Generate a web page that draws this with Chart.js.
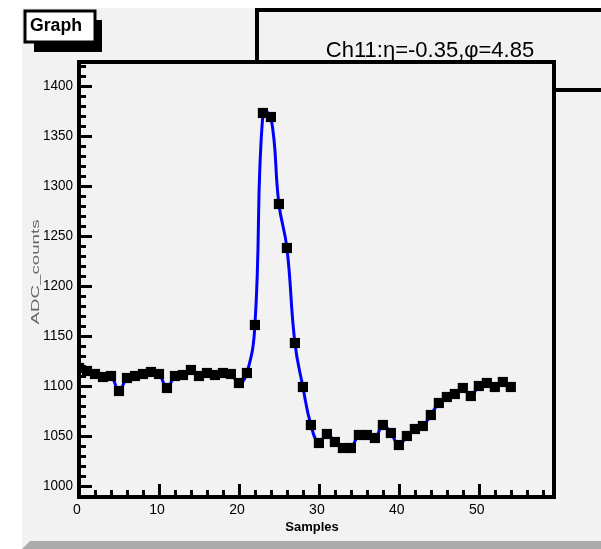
<!DOCTYPE html>
<html>
<head>
<meta charset="utf-8">
<script src="https://cdn.jsdelivr.net/npm/chart.js@4/dist/chart.umd.min.js"></script>
<style>
  html, body { margin: 0; padding: 0; background: #f2f2f2; }
  #wrap { width: 601px; height: 549px; }
</style>
</head>
<body>
<div id="wrap"><canvas id="graph" width="601" height="549"></canvas></div>
<script>
// pulse samples for one channel
const samples = [
  0, 1, 2, 3, 4, 5, 6, 7, 8, 9,
  10, 11, 12, 13, 14, 15, 16, 17, 18, 19,
  20, 21, 22, 23, 24, 25, 26, 27, 28, 29,
  30, 31, 32, 33, 34, 35, 36, 37, 38, 39,
  40, 41, 42, 43, 44, 45, 46, 47, 48, 49,
  50, 51, 52, 53, 54
];
const adcCounts = [
  1118, 1115, 1112, 1109, 1110, 1095, 1108, 1110, 1112, 1114,
  1112, 1098, 1110, 1111, 1116, 1110, 1113, 1111, 1113, 1112,
  1103, 1113, 1161, 1373, 1369, 1282, 1238, 1143, 1099, 1061,
  1043, 1052, 1044, 1038, 1038, 1051, 1051, 1048, 1061, 1053,
  1041, 1050, 1057, 1060, 1071, 1083, 1089, 1092, 1098, 1090,
  1100, 1103, 1099, 1104, 1099
];
const xTicks = [0, 10, 20, 30, 40, 50];
const yTicks = [1000, 1050, 1100, 1150, 1200, 1250, 1300, 1350, 1400];

const titleText = 'Ch11:\u03b7=-0.35,\u03c6=4.85';
const graphName = 'Graph';
const xTitle = 'Samples';
const yTitle = 'ADC_counts';

const X_MIN = 0, X_MAX = 59.4;
const Y_MIN = 989, Y_MAX = 1424;

// ROOT-like pad: bevelled canvas, title pave, thick frame with inner ticks
const rootPad = {
  id: 'rootPad',
  beforeDraw(chart) {
    const ctx = chart.ctx;
    const a = chart.chartArea;
    ctx.save();
    ctx.fillStyle = '#ffffff';
    ctx.fillRect(0, 0, 601, 549);
    ctx.fillStyle = '#f2f2f2';
    ctx.fillRect(22, 8, 601, 549);
    // bottom bevel
    ctx.fillStyle = '#ababab';
    ctx.beginPath();
    ctx.moveTo(22, 549);
    ctx.lineTo(30, 541);
    ctx.lineTo(601, 541);
    ctx.lineTo(601, 549);
    ctx.closePath();
    ctx.fill();

    // title pave
    ctx.strokeStyle = '#000';
    ctx.lineWidth = 4;
    ctx.strokeRect(257, 10, 420, 80);
    ctx.fillStyle = '#000';
    ctx.font = '22px "Liberation Sans", Arial, sans-serif';
    ctx.textAlign = 'center';
    ctx.textBaseline = 'alphabetic';
    ctx.fillText(titleText, 430, 57, 216);

    // frame background
    ctx.fillStyle = '#f2f2f2';
    ctx.fillRect(a.left, a.top, a.width, a.height);
    ctx.restore();
  },
  afterDraw(chart) {
    const ctx = chart.ctx;
    const a = chart.chartArea;
    const xs = chart.scales.x;
    const ys = chart.scales.y;
    ctx.save();
    ctx.strokeStyle = '#000';
    ctx.lineWidth = 4;
    ctx.strokeRect(a.left, a.top, a.width, a.height);

    // y ticks (major every 50, minor every 10)
    ctx.lineWidth = 3;
    ctx.beginPath();
    for (let v = 990; v <= 1420; v += 10) {
      const y = Math.round(ys.getPixelForValue(v)) + 0.5;
      const len = (v % 50 === 0) ? 13 : 7;
      ctx.moveTo(a.left, y);
      ctx.lineTo(a.left + len, y);
    }
    // x ticks (major every 10, minor every 2)
    for (let v = 0; v <= 58; v += 2) {
      const x = Math.round(xs.getPixelForValue(v)) + 0.5;
      const len = (v % 10 === 0) ? 13 : 7;
      ctx.moveTo(x, a.bottom);
      ctx.lineTo(x, a.bottom - len);
    }
    ctx.stroke();

    // tick labels
    ctx.fillStyle = '#000';
    ctx.font = '14px "Liberation Sans", Arial, sans-serif';
    ctx.textAlign = 'right';
    ctx.textBaseline = 'middle';
    yTicks.forEach(v => {
      ctx.fillText(String(v), 73, ys.getPixelForValue(v), 30);
    });
    ctx.textAlign = 'center';
    ctx.textBaseline = 'top';
    xTicks.forEach(v => {
      ctx.fillText(String(v), xs.getPixelForValue(v) - 2, 503);
    });

    // axis titles
    ctx.font = 'bold 13px "Liberation Sans", Arial, sans-serif';
    ctx.textBaseline = 'middle';
    ctx.fillText(xTitle, 312, 527, 60);

    ctx.save();
    ctx.translate(36, 272);
    ctx.rotate(-Math.PI / 2);
    ctx.scale(1.7, 1);
    ctx.fillStyle = '#666';
    ctx.font = '11px "Liberation Sans", Arial, sans-serif';
    ctx.textAlign = 'center';
    ctx.fillText(yTitle, 0, 0);
    ctx.restore();

    // graph name pave with shadow
    ctx.fillStyle = '#000';
    ctx.fillRect(34, 20, 68, 32);
    ctx.fillStyle = '#fff';
    ctx.fillRect(25, 11, 70, 31);
    ctx.lineWidth = 3;
    ctx.strokeRect(25, 11, 70, 31);
    ctx.fillStyle = '#000';
    ctx.font = 'bold 18px "Liberation Sans", Arial, sans-serif';
    ctx.textAlign = 'left';
    ctx.textBaseline = 'alphabetic';
    ctx.fillText(graphName, 30, 31, 52);
    ctx.restore();
  }
};

const points = samples.map((s, i) => ({ x: s, y: adcCounts[i] }));

new Chart(document.getElementById('graph'), {
  type: 'line',
  data: {
    datasets: [{
      data: points,
      borderColor: '#0000ff',
      borderWidth: 3,
      tension: 0.45,
      pointStyle: 'rect',
      pointRadius: 7.2,
      pointBackgroundColor: '#000',
      pointBorderColor: '#000',
      pointBorderWidth: 0
    }]
  },
  options: {
    responsive: false,
    animation: false,
    layout: { padding: { left: 79, right: 47, top: 62, bottom: 52 } },
    plugins: { legend: { display: false }, tooltip: { enabled: false } },
    scales: {
      x: { type: 'linear', display: false, min: X_MIN, max: X_MAX },
      y: { type: 'linear', display: false, min: Y_MIN, max: Y_MAX }
    }
  },
  plugins: [rootPad]
});
</script>
</body>
</html>
